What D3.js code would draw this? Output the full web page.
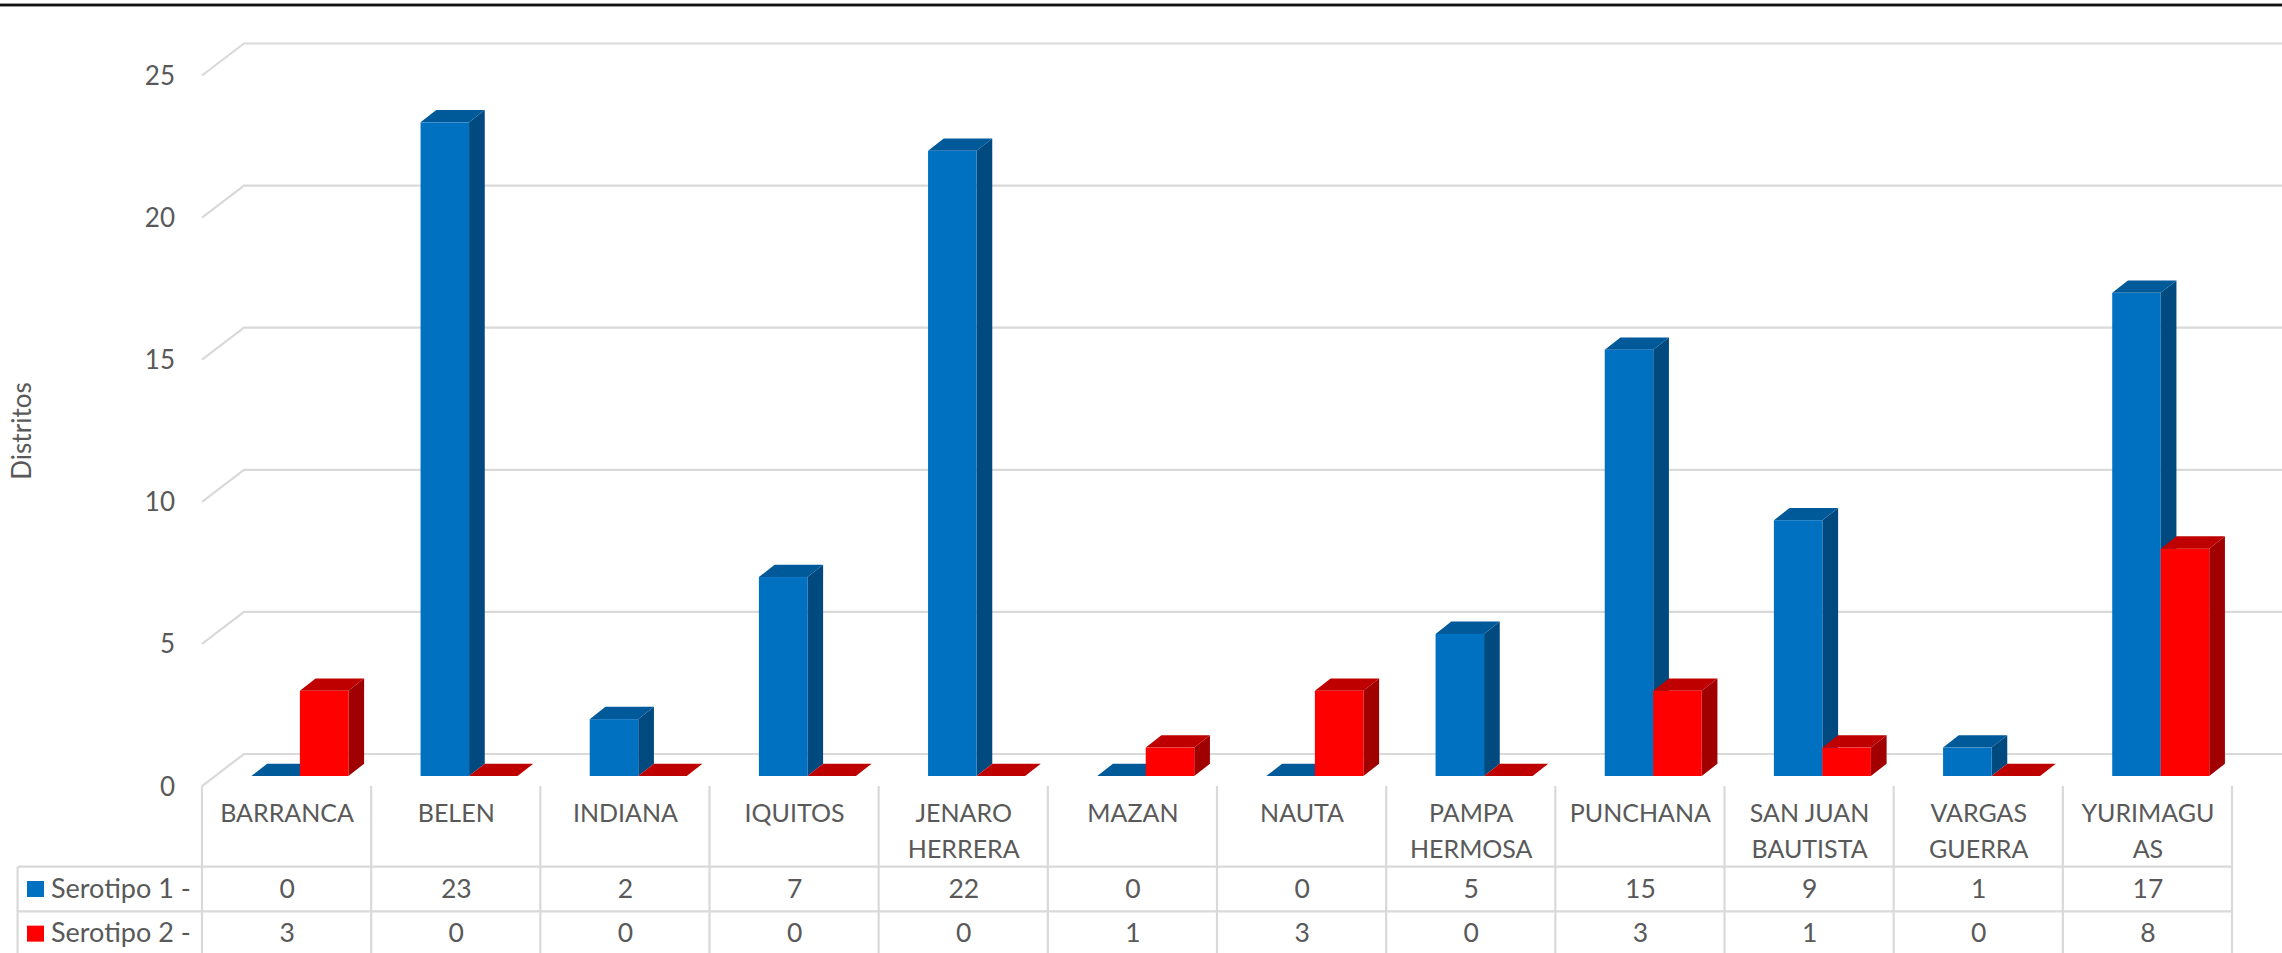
<!DOCTYPE html>
<html><head><meta charset="utf-8">
<script src="https://cdn.jsdelivr.net/npm/d3@7/dist/d3.min.js"></script>
<style>
html,body{margin:0;padding:0;background:#fff;overflow:hidden}
text{font-family:Lato,"Open Sans",sans-serif;fill:#595959}
</style></head><body><svg id="c" width="2282" height="953"></svg>
<script>
const categories=[["BARRANCA"],["BELEN"],["INDIANA"],["IQUITOS"],["JENARO","HERRERA"],["MAZAN"],["NAUTA"],["PAMPA","HERMOSA"],["PUNCHANA"],["SAN JUAN","BAUTISTA"],["VARGAS","GUERRA"],["YURIMAGU","AS"]];
const serotipo1=[0,23,2,7,22,0,0,5,15,9,1,17];
const serotipo2=[3,0,0,0,0,1,3,0,3,1,0,8];
const seriesNames=["Serotipo 1 -","Serotipo 2 -"];
const yTicks=[0,5,10,15,20,25];
const seriesColors=[{front:"#0070c0",side:"#004a80",top:"#005a9a"},{front:"#ff0000",side:"#a00000",top:"#bf0000"}];

const W=2282,H=953,grid="#d9d9d9";
const svg=d3.select("#c");
const x=d3.scaleBand().domain(d3.range(categories.length)).range([202,2232]);
const y=d3.scaleLinear().domain([0,25]).range([776,65.5]);
const barW=48.5,dx=15.7,dy=12.3,barLeft=49.4;
const frontOff=10,backOff=-22,wallDx=42;

// top rule
svg.append("rect").attr("x",0).attr("y",3).attr("width",W).attr("height",4).attr("fill","#999");
svg.append("rect").attr("x",0).attr("y",4).attr("width",W).attr("height",2).attr("fill","#111");

// gridlines
const g=svg.append("g").attr("fill","none").attr("stroke",grid).attr("stroke-width",2.2);
yTicks.forEach(v=>{
  g.append("path").attr("d",d3.line()([[x.range()[0],y(v)+frontOff],[x.range()[0]+wallDx,y(v)+backOff],[W,y(v)+backOff]]));
});

// y tick labels
svg.append("g").selectAll("text").data(yTicks).join("text")
 .attr("x",175).attr("y",d=>y(d)+frontOff+3).attr("text-anchor","end").attr("dominant-baseline","middle")
 .attr("font-size",26).text(d=>d);

svg.append("text").attr("transform","translate(24,431) rotate(-90)").attr("text-anchor","middle")
 .attr("dominant-baseline","middle").attr("font-size",26).text("Distritos");

// bars
[serotipo1,serotipo2].forEach((vals,s)=>{
  const c=seriesColors[s];
  const gg=svg.append("g");
  vals.forEach((v,i)=>{
    const l=x(i)+barLeft+s*barW,r=l+barW,t=y(v),b=y(0);
    gg.append("path").attr("fill",c.side).attr("d",d3.line()([[r,b],[r+dx,b-dy],[r+dx,t-dy],[r,t]])+"Z");
    gg.append("path").attr("fill",c.top).attr("d",d3.line()([[l,t],[l+dx,t-dy],[r+dx,t-dy],[r,t]])+"Z");
    if(v>0)gg.append("rect").attr("x",l).attr("y",t).attr("width",barW).attr("height",b-t).attr("fill",c.front);
  });
});

// data table
const rows=[866.7,911.3,956];
const tx0=17.6;
const t=svg.append("g").attr("stroke",grid).attr("stroke-width",2.2);
rows.forEach(yy=>t.append("line").attr("x1",tx0).attr("x2",x.range()[1]).attr("y1",yy).attr("y2",yy));
t.append("line").attr("x1",tx0).attr("x2",tx0).attr("y1",rows[0]).attr("y2",H);
d3.range(categories.length+1).forEach(i=>{
  const xx=i<categories.length?x(i):x.range()[1];
  t.append("line").attr("x1",xx).attr("x2",xx).attr("y1",786).attr("y2",H);
});

// category labels
const cat=svg.append("g");
categories.forEach((lines,i)=>{
  lines.forEach((ln,j)=>{
    cat.append("text").attr("x",x(i)+x.bandwidth()/2+0.5).attr("y",816+j*36).attr("text-anchor","middle")
      .attr("dominant-baseline","middle").attr("font-size",25).text(ln);
  });
});
// table values + legend
[serotipo1,serotipo2].forEach((vals,s)=>{
  const yc=(rows[s]+rows[s+1])/2+2;
  svg.append("rect").attr("x",27).attr("y",yc-10).attr("width",17).attr("height",16).attr("fill",seriesColors[s].front);
  svg.append("text").attr("x",51).attr("y",yc).attr("dominant-baseline","middle").attr("font-size",27).text(seriesNames[s]);
  svg.append("g").selectAll("text").data(vals).join("text")
    .attr("x",(d,i)=>x(i)+x.bandwidth()/2+0.5).attr("y",yc).attr("text-anchor","middle")
    .attr("dominant-baseline","middle").attr("font-size",26.5).text(d=>d);
});
</script></body></html>
